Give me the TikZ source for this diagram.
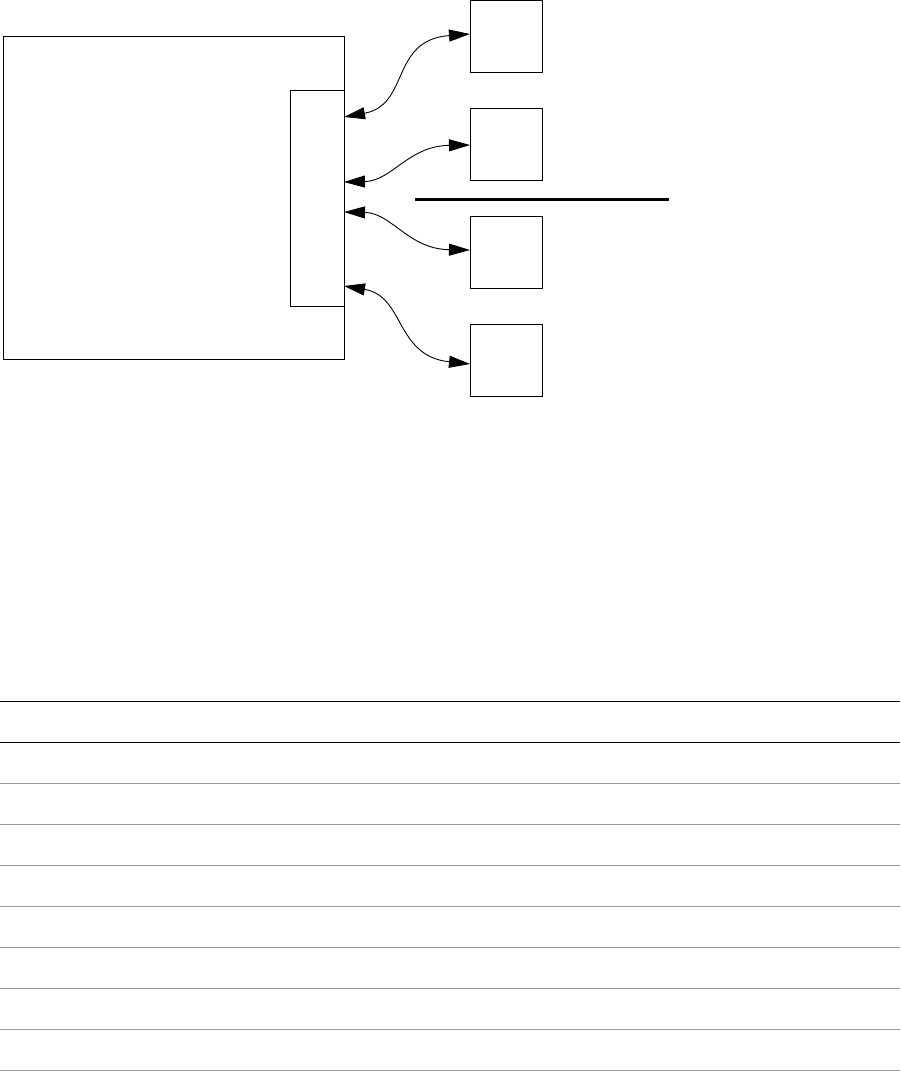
\documentclass[tikz,border=0pt]{standalone}
\usetikzlibrary{arrows.meta}
\definecolor{rowgray}{RGB}{153,153,153}
\begin{document}
\begin{tikzpicture}[x=1pt,y=-1pt,
  box/.style={draw=black,line width=1pt,minimum width=#1,inner sep=0pt,outer sep=0pt},
  sq/.style={draw=black,line width=1pt,minimum width=72pt,minimum height=72pt,inner sep=0pt,outer sep=0pt},
  link/.style={line width=0.9pt,{Triangle[length=21pt,width=12pt]}-{Triangle[length=21pt,width=12pt]}},
  thickrule/.style={line width=3pt},
  headrule/.style={line width=1.3pt,black},
  rowrule/.style={line width=1pt,rowgray}]
\useasboundingbox (0,0) rectangle (900,1071);
% main box and port
\node[box=341pt,minimum height=323pt] (main) at (173.5,197.5) {};
\node[box=54pt,minimum height=216pt] (port) at (317,198) {};
% small boxes
\node[sq] (b1) at (506,36) {};
\node[sq] (b2) at (506,144) {};
\node[sq] (b3) at (506,252) {};
\node[sq] (b4) at (506,360) {};
% connectors
\draw[link] ([yshift=81pt]port.east) .. controls (410,105) and (390,40) .. ([yshift=2pt]b1.west);
\draw[link] ([yshift=16pt]port.east) .. controls (392,181) and (408,146) .. ([yshift=-1pt]b2.west);
\draw[link] ([yshift=-14pt]port.east) .. controls (392,213) and (408,249) .. ([yshift=2pt]b3.west);
\draw[link] ([yshift=-88pt]port.east) .. controls (405,296) and (395,356) .. ([yshift=-4pt]b4.west);
% separator line
\coordinate (s1) at (415,199);
\coordinate (s2) at (669,199);
\draw[thickrule] (s1) -- (s2);
% table rules
\draw[headrule] (0,701.3) -- (900,701.3);
\draw[headrule] (0,742.3) -- (900,742.3);
\foreach \y in {783.3,824.3,865.3,906.3,947.3,988.3,1029.3,1070.3}
  \draw[rowrule] (0,\y) -- (900,\y);
\end{tikzpicture}
\end{document}
